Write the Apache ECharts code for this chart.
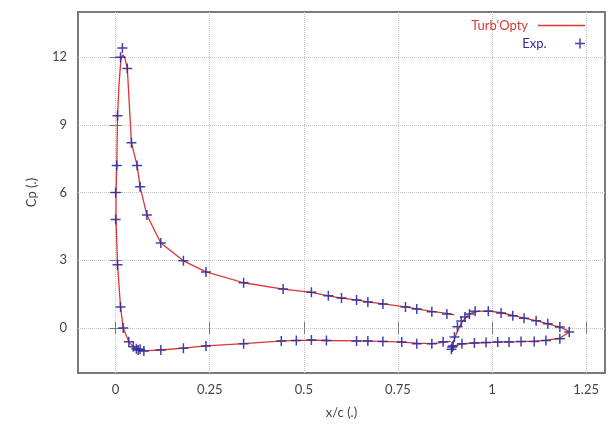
<!DOCTYPE html>
<html><head><meta charset="utf-8">
<script src="https://cdn.jsdelivr.net/npm/echarts@6/dist/echarts.min.js"></script>
<style>html,body{margin:0;padding:0;background:#fff}#c{width:610px;height:426px}</style>
</head><body><div id="c"></div>
<script>
// Tick labels
const xTicks = [0, 0.25, 0.5, 0.75, 1, 1.25];
const yTicks = [0, 3, 6, 9, 12];

// Turb'Opty curve, main element (upper surface TE -> LE, then lower surface LE -> TE)
const mainLineX = [0.90,0.88,0.84,0.80,0.77,0.71,0.67,0.64,0.60,0.565,0.52,0.445,0.34,0.24,0.18,0.12,0.083,0.065,0.057,0.042,0.031,0.024,0.019,0.014,0.009,0.005,0.003,0.001,0.001,0.005,0.013,0.02,0.035,0.047,0.06,0.075,0.12,0.18,0.24,0.34,0.445,0.52,0.565,0.64,0.71,0.76,0.80,0.84,0.87,0.89];
const mainLineY = [0.58,0.64,0.73,0.84,0.93,1.06,1.15,1.24,1.32,1.42,1.57,1.72,2.0,2.48,2.97,3.76,5.0,6.25,7.2,8.2,11.5,12.0,12.1,11.9,10.8,9.4,7.2,6.0,4.8,2.8,0.93,0.0,-0.62,-0.84,-0.98,-1.02,-0.98,-0.9,-0.8,-0.7,-0.58,-0.54,-0.56,-0.58,-0.6,-0.63,-0.68,-0.7,-0.64,-0.6];

// Turb'Opty curve, flap
const flapLineX = [0.892,0.896,0.903,0.912,0.922,0.932,0.944,0.962,0.99,1.024,1.055,1.085,1.117,1.148,1.18,1.198,1.205,1.19,1.18,1.143,1.112,1.077,1.045,1.015,0.984,0.953,0.92,0.9,0.892];
const flapLineY = [-0.95,-0.7,-0.35,0.0,0.3,0.5,0.65,0.73,0.75,0.67,0.55,0.43,0.32,0.18,0.03,-0.1,-0.18,-0.35,-0.46,-0.55,-0.59,-0.61,-0.62,-0.63,-0.65,-0.67,-0.71,-0.8,-0.95];

// Experimental points
const expX = [0.018,0.013,0.031,0.005,0.042,0.003,0.057,0.0,0.065,0.0,0.083,0.12,0.18,0.24,0.34,0.445,0.52,0.565,0.60,0.64,0.67,0.71,0.77,0.80,0.84,0.88,
  0.005,0.013,0.02,0.035,0.047,0.055,0.06,0.065,0.075,0.12,0.18,0.24,0.34,0.44,0.48,0.52,0.56,0.64,0.67,0.71,0.76,0.80,0.84,0.87,
  0.892,0.894,0.9,0.908,0.918,0.928,0.94,0.955,0.99,1.024,1.055,1.085,1.117,1.148,1.18,1.205,1.18,1.143,1.112,1.077,1.045,1.015,0.984,0.953,0.92,0.896];
const expY = [12.4,12.0,11.5,9.4,8.2,7.2,7.2,6.0,6.25,4.8,5.0,3.76,2.97,2.48,2.0,1.72,1.58,1.42,1.32,1.24,1.15,1.06,0.93,0.84,0.72,0.62,
  2.8,0.93,0.0,-0.62,-0.84,-0.92,-0.98,-0.95,-1.02,-0.98,-0.9,-0.8,-0.7,-0.58,-0.56,-0.54,-0.56,-0.58,-0.58,-0.6,-0.63,-0.7,-0.7,-0.62,
  -0.95,-0.85,-0.4,0.05,0.3,0.48,0.62,0.74,0.74,0.66,0.54,0.43,0.32,0.18,0.04,-0.18,-0.48,-0.56,-0.6,-0.6,-0.63,-0.63,-0.65,-0.67,-0.7,-0.8];

const zip = (a, b) => a.map((v, i) => [v, b[i]]);
const FONT = 'Lato';
const crossPath = 'path://M4.25,0H5.75V4.25H10V5.75H5.75V10H4.25V5.75H0V4.25H4.25Z';

const chart = echarts.init(document.getElementById('c'), null, {renderer: 'canvas'});
const lineColor = '#dd3434';
const expColor = '#2e2ea0';
const tickStyle = {color: '#777', width: 1};

chart.setOption({
  animation: false,
  backgroundColor: '#fff',
  grid: {left: 78, right: 5, top: 12, bottom: 53, show: true, borderColor: '#7a7a7a', borderWidth: 2, backgroundColor: 'transparent'},
  legend: [
    {data: [{name: "Turb'Opty", icon: 'rect'}], right: 25, top: 19, align: 'right', orient: 'vertical', padding: 0,
     itemWidth: 47, itemHeight: 1.5, textStyle: {color: '#d83838', fontSize: 13, fontFamily: FONT, padding: [0, 5, 0, 0]}},
    {data: ['Exp.'], right: 25, top: 37, align: 'right', orient: 'vertical', padding: 0,
     itemWidth: 47, itemHeight: 10, textStyle: {color: '#2e2e90', fontSize: 13, fontFamily: FONT, padding: [0, 5, 0, 0]}}
  ],
  xAxis: [
    {type: 'value', min: -0.1, max: 1.3, position: 'bottom',
     axisLine: {show: false},
     axisTick: {show: true, inside: true, length: 6, customValues: xTicks, lineStyle: tickStyle},
     axisLabel: {customValues: xTicks, margin: 10, color: '#444', fontSize: 13, fontFamily: FONT},
     splitLine: {show: true, lineStyle: {type: 'dotted', color: '#c4c4c4', width: 1}},
     name: 'x/c (.)', nameLocation: 'middle', nameGap: 33,
     nameTextStyle: {color: '#444', fontSize: 13, fontFamily: FONT}},
    {type: 'value', min: -0.1, max: 1.3, position: 'top',
     axisLine: {show: false},
     axisTick: {show: true, inside: true, length: 6, customValues: xTicks, lineStyle: tickStyle},
     axisLabel: {show: false}, splitLine: {show: false}}
  ],
  yAxis: [
    {type: 'value', min: -2, max: 14, position: 'left',
     axisLine: {show: false},
     axisTick: {show: true, inside: true, length: 6, customValues: yTicks, lineStyle: tickStyle},
     axisLabel: {customValues: yTicks, margin: 11, color: '#444', fontSize: 13, fontFamily: FONT},
     splitLine: {show: true, lineStyle: {type: 'dotted', color: '#c4c4c4', width: 1}},
     name: 'Cp (.)', nameLocation: 'middle', nameGap: 40,
     nameTextStyle: {color: '#444', fontSize: 13, fontFamily: FONT}},
    {type: 'value', min: -2, max: 14, position: 'right',
     axisLine: {show: false},
     axisTick: {show: true, inside: true, length: 6, customValues: yTicks, lineStyle: tickStyle},
     axisLabel: {show: false}, splitLine: {show: false}}
  ],
  series: [
    {name: "Turb'Opty", type: 'line', data: zip(mainLineX, mainLineY), showSymbol: false, symbol: 'none',
     lineStyle: {color: lineColor, width: 1.3}, itemStyle: {color: lineColor}, z: 2},
    {name: "Turb'Opty", type: 'line', data: zip(flapLineX, flapLineY), showSymbol: false, symbol: 'none',
     lineStyle: {color: lineColor, width: 1.3}, itemStyle: {color: lineColor}, z: 2},
    {name: 'Exp.', type: 'scatter', data: zip(expX, expY), symbol: crossPath, symbolSize: 10,
     itemStyle: {color: expColor, opacity: 0.9}, z: 3}
  ]
});
</script>
</body></html>
